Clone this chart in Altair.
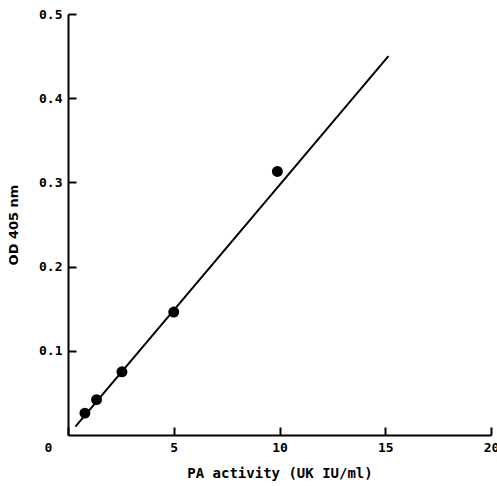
import altair as alt
import pandas as pd

# measured points
pa_activity = [0.8, 1.35, 2.55, 5.0, 9.9]
od_405 = [0.026, 0.042, 0.075, 0.146, 0.313]

# fitted line end points
line_x = [0.35, 15.15]
line_y = [0.010, 0.450]

x_ticks = [0, 5, 10, 15, 20]
y_ticks = [0.1, 0.2, 0.3, 0.4, 0.5]

pts = pd.DataFrame({"x": pa_activity, "y": od_405})
ln = pd.DataFrame({"x": line_x, "y": line_y})

FONT = "DejaVu Sans Mono"

xscale = alt.Scale(domain=[0, 20], nice=False, zero=False)
yscale = alt.Scale(domain=[0, 0.5], nice=False, zero=False)

xaxis = alt.Axis(
    values=x_ticks, title="PA activity (UK IU/ml)", format="d",
    domainColor="black", domainWidth=2, tickColor="black", tickWidth=2,
    tickSize=alt.ExprRef("-8"), labelPadding=14, grid=False,
    labelFont=FONT, labelFontSize=13, labelFontWeight="bold", labelColor="black",
    labelOffset={"condition": {"test": "datum.value == 0", "value": -20}, "value": 0},
    titleFont=FONT, titleFontSize=14, titleFontWeight="bold", titleColor="black",
    titlePadding=12, labelFlush=False, labelOverlap=False,
)
yaxis = alt.Axis(
    values=y_ticks, title="OD 405 nm", format=".1f",
    domainColor="black", domainWidth=2, tickColor="black", tickWidth=2,
    tickSize=alt.ExprRef("-8"), labelPadding=14, grid=False,
    labelFont=FONT, labelFontSize=13, labelFontWeight="bold", labelColor="black",
    titleFont="DejaVu Sans", titleFontSize=13, titleFontWeight="bold", titleColor="black",
    titlePadding=18, labelFlush=False, labelOverlap=False,
)

line = alt.Chart(ln).mark_line(color="black", strokeWidth=2).encode(
    x=alt.X("x:Q", scale=xscale, axis=xaxis),
    y=alt.Y("y:Q", scale=yscale, axis=yaxis),
)
points = alt.Chart(pts).mark_circle(color="black", opacity=1, size=120).encode(
    x=alt.X("x:Q", scale=xscale),
    y=alt.Y("y:Q", scale=yscale),
)

chart = alt.layer(line, points).properties(
    width=423, height=421,
    autosize=alt.AutoSizeParams(type="none"),
    padding={"left": 68, "top": 14, "right": 6, "bottom": 51},
    background="white",
).configure_view(stroke=None)

chart.save("out.html", embed_options={"renderer": "svg", "actions": False})
